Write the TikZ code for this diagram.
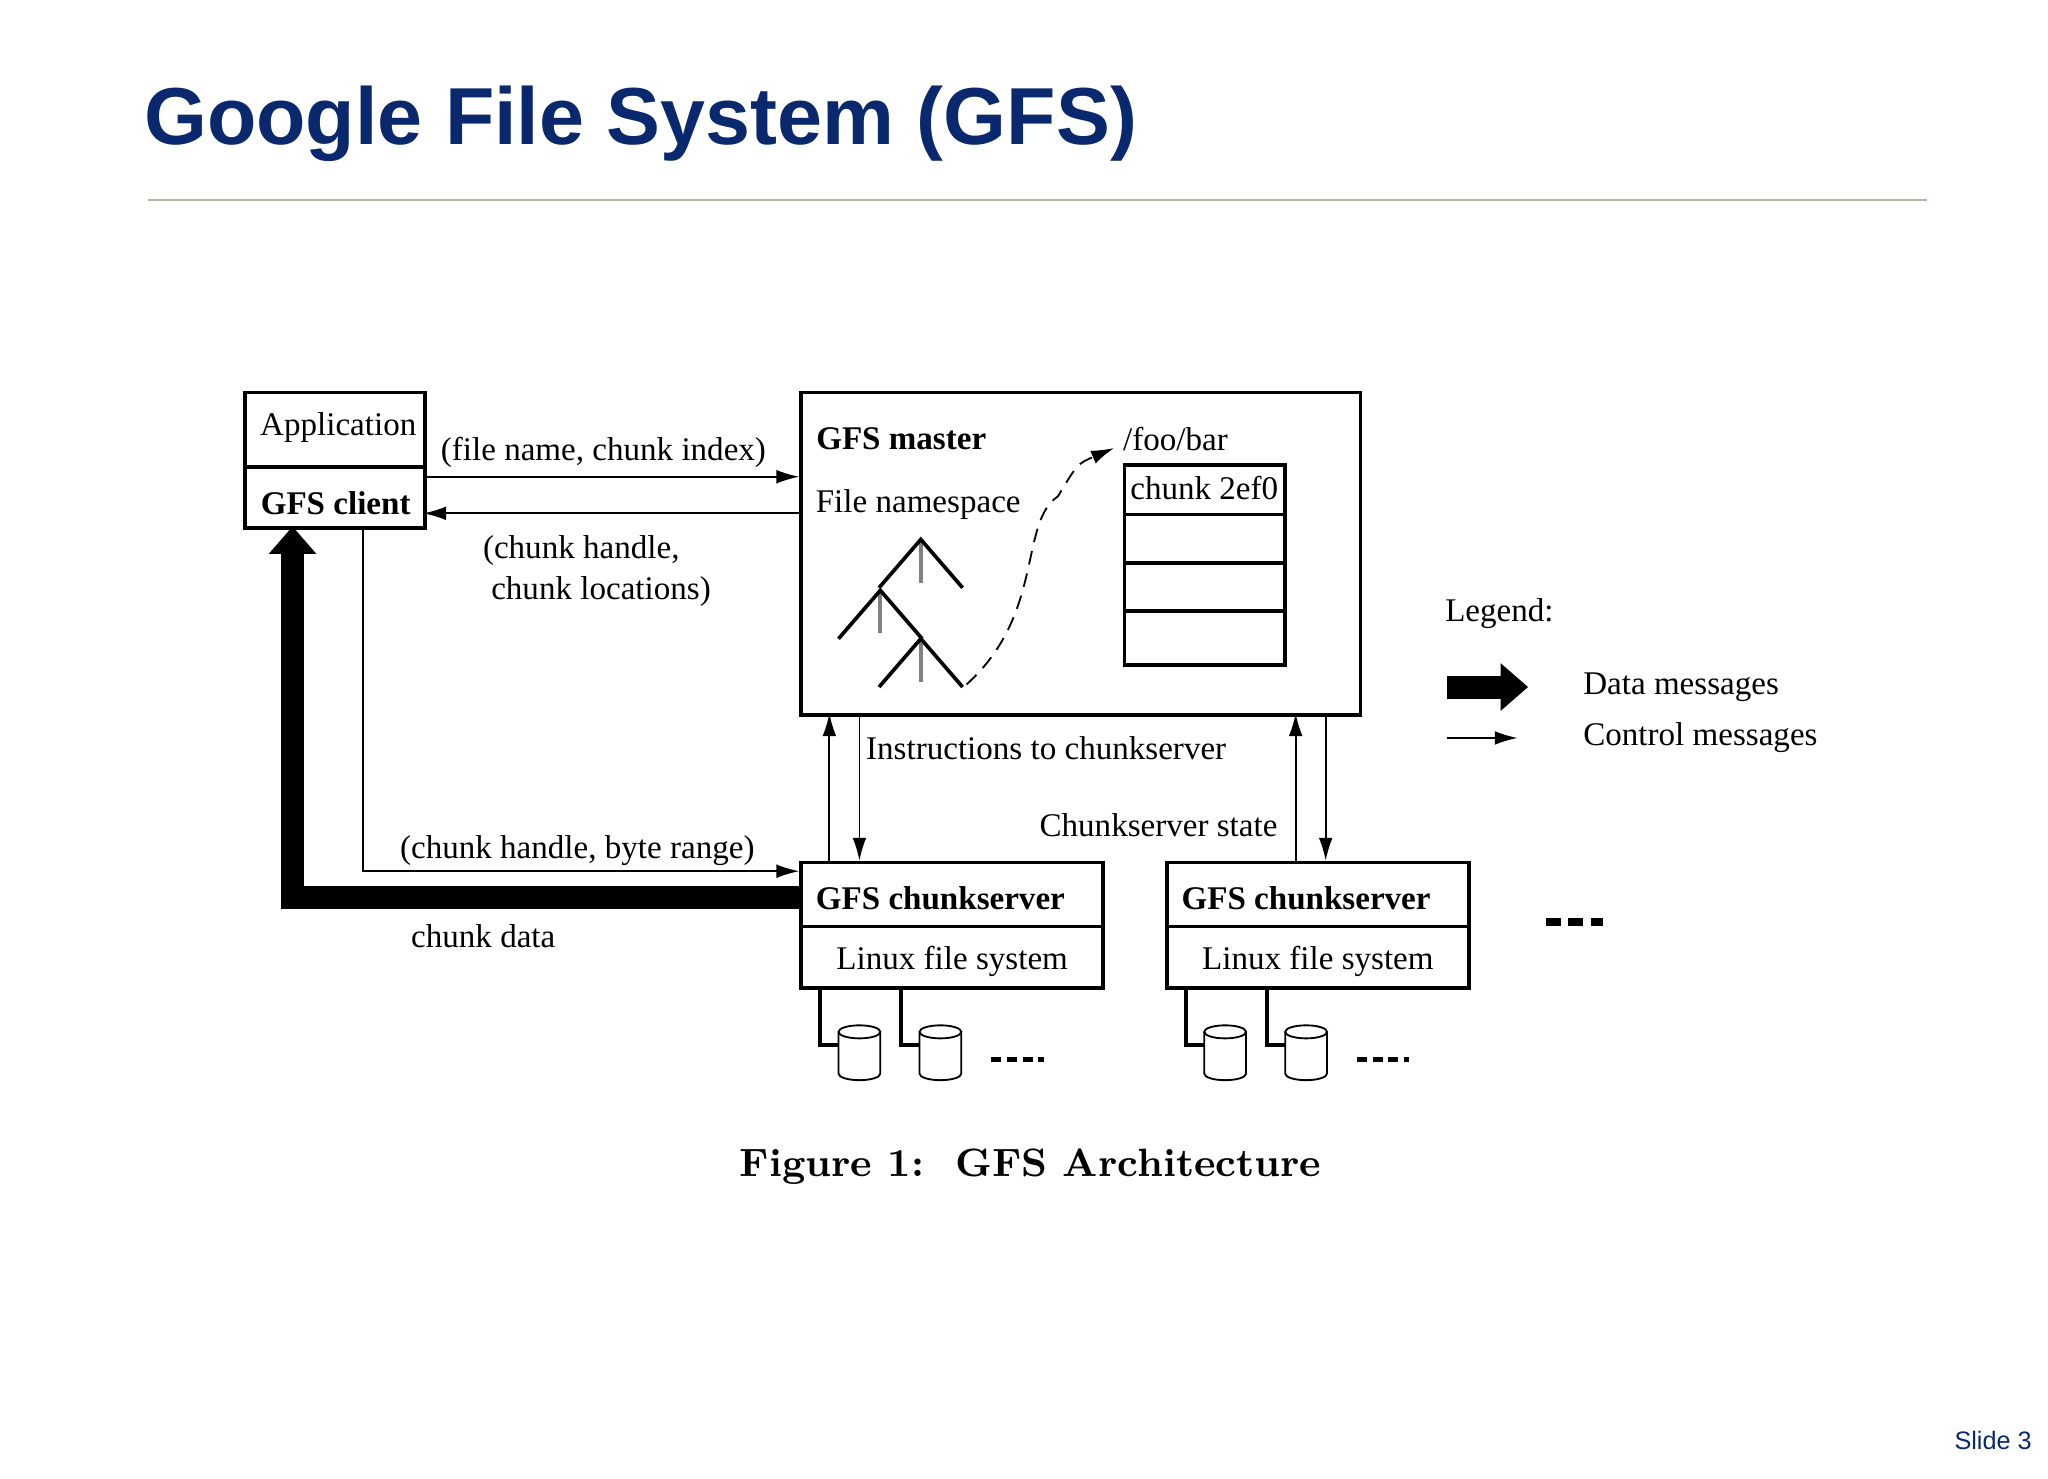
\documentclass[tikz,border=0pt]{standalone}
\usepackage{fontspec}
\setmainfont{Liberation Serif}
\newfontfamily\titlefont{Liberation Sans}
\newfontfamily\capfont{Latin Modern Roman}
\usetikzlibrary{arrows.meta}
\definecolor{titleblue}{RGB}{10,40,110}
\definecolor{rulecol}{RGB}{190,180,160}
\tikzset{
  box/.style={draw,thick,inner sep=0},
  lbl/.style={font=\fontsize{7.2}{9}\selectfont,inner sep=1pt},
  blbl/.style={font=\fontsize{7.2}{9}\selectfont\bfseries,inner sep=1pt},
  ctl/.style={-{Latex[length=5pt,width=3pt]},thin},
  data/.style={line width=5pt,-{Triangle[length=6pt,width=10pt]}},
  dots/.style={line width=1.2pt,dash pattern=on 2.2pt off 1.2pt},
}
\begin{document}
\begin{tikzpicture}[x=0.01cm,y=-0.01cm]
\useasboundingbox (0,0) rectangle (1568,1132);
\node[font=\titlefont\bfseries\fontsize{17.6}{21}\selectfont,text=titleblue,anchor=west] (title) at (98,95) {Google File System (GFS)};
\draw[rulecol,thin] (113,153) -- (1475,153);
% client
\node[box,minimum width=1.38cm,minimum height=0.57cm,anchor=north west] (app) at (186,299) {};
\node[lbl] at (259,327) {Application};
\node[box,minimum width=1.38cm,minimum height=0.47cm,anchor=north west] (cli) at (186,356) {};
\node[blbl] at (257,385) {GFS client};
% master
\node[box,minimum width=4.28cm,minimum height=2.47cm,anchor=north west] (mst) at (612,299) {};
\node[blbl] at (690,336) {GFS master};
\node[lbl] at (703,386) {File namespace};
\node[lbl] at (900,336) {/foo/bar};
\draw[thick] (861,356) rectangle (984,509);
\foreach \y in {394,431,468} \draw[thick] (861,\y) -- (984,\y);
\node[lbl] (chk) at (922,374) {chunk 2ef0};
% tree
\foreach \ax/\ay in {705/413, 674/452, 705/489}{
  \draw[gray,thick] (\ax,\ay) -- (\ax,\ay+33);
  \draw[thick] (\ax-32,\ay+37) -- (\ax,\ay) -- (\ax+32,\ay+37);
}
\coordinate (treeend) at (740,524);
\coordinate (foo) at (853,343);
\draw[densely dashed,-{Latex[length=5pt,width=3pt]}] (treeend) .. controls (800,470) and (780,400) .. (810,380) .. controls (825,355) .. (foo);
% chunkservers
\foreach \n/\x in {a/612,b/892}{
  \node[box,minimum width=2.31cm,minimum height=0.49cm,anchor=north west] (cs\n) at (\x,659) {};
  \node[blbl] at (\x+108,688) {GFS chunkserver};
  \node[box,minimum width=2.31cm,minimum height=0.47cm,anchor=north west] (fs\n) at (\x,708) {};
  \node[lbl] at (\x+117,736) {Linux file system};
  \foreach \dx in {46,108}{
    \draw[thick] (\x+\dx-30,755) -- (\x+\dx-30,800) -- (\x+\dx-16,800);
    \draw (\x+\dx-16,790) -- (\x+\dx-16,822) arc (180:0:16 and 5) -- (\x+\dx+16,790);
    \draw (\x+\dx,790) ellipse (16 and 5);
  }
  \draw[dots] (\x+147,811) -- (\x+187,811);
}
% control arrows
\draw[ctl] (324,365) -- (612,365);
\node[lbl] at (462,346) {(file name, chunk index)};
\draw[ctl] (612,393) -- (324,393);
\node[lbl,align=left] at (457,437) {(chunk handle,\\\ chunk locations)};
\draw[ctl] (278,403) -- (278,667) -- (612,667);
\node[lbl] at (442,651) {(chunk handle, byte range)};
\draw[data] (612,687) -- (224,687) -- (224,403);
\node[lbl] at (370,717) {chunk data};
\draw[ctl] (635,659) -- (635,546);
\draw[ctl] (658,546) -- (658,659);
\node[lbl] at (801,573) {Instructions to chunkserver};
\draw[ctl] (992,659) -- (992,546);
\draw[ctl] (1015,546) -- (1015,659);
\node[lbl] at (887,632) {Chunkserver state};
% legend
\node[lbl] at (1148,470) {Legend:};
\coordinate (l1a) at (1108,526); \coordinate (l1b) at (1170,526);
\draw[data] (l1a) -- (l1b);
\node[lbl,anchor=west] at (1208,526) {Data messages};
\coordinate (l2a) at (1108,565); \coordinate (l2b) at (1162,565);
\draw[ctl] (l2a) -- (l2b);
\node[lbl,anchor=west] at (1208,565) {Control messages};
\draw[line width=1.8pt,dash pattern=on 3.2pt off 1.6pt] (1184,706) -- (1227,706);
\node[font=\capfont\bfseries\fontsize{8.6}{10}\selectfont] at (789,893) {Figure 1:\ \ GFS Architecture};
\node[font=\titlefont\fontsize{5.5}{6}\selectfont,text=titleblue] at (1526,1103) {Slide 3};
\end{tikzpicture}
\end{document}
